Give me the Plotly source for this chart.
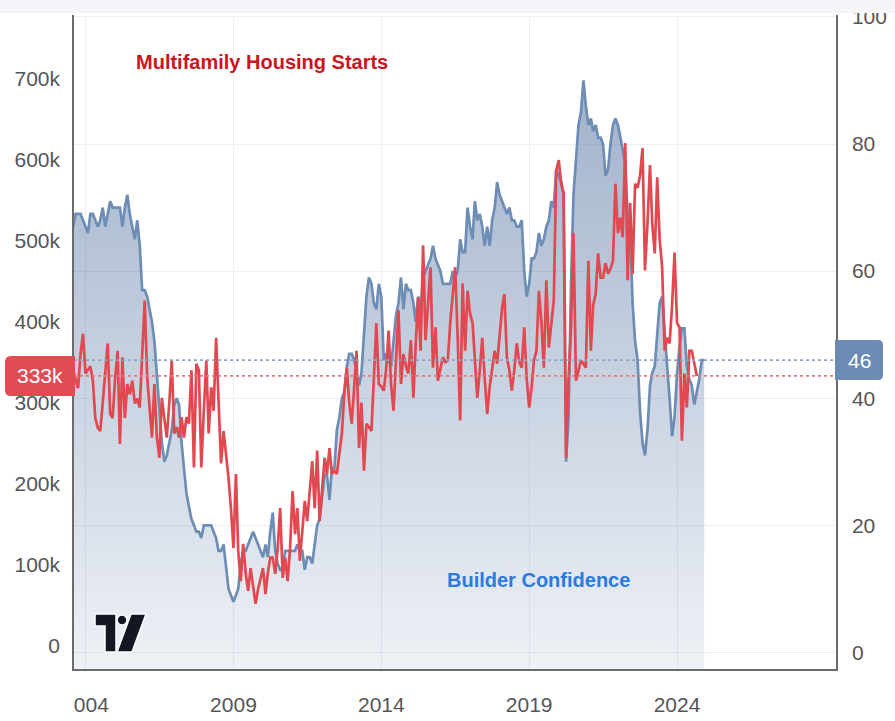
import pandas as pd
import plotly.graph_objects as go

# ---------------- data (monthly, starting Aug 2003) ----------------
series_start = "2003-08-01"

# NAHB builder confidence index (right axis)
builder_confidence = [
    67, 69, 69, 69, 68,                                   # 2003 Aug-Dec
    67, 66, 69, 69, 68, 67, 68, 70, 67, 69, 71, 70,       # 2004
    70, 70, 70, 67, 70, 72, 69, 67, 65, 68, 64, 57,       # 2005
    57, 56, 54, 52, 49, 44, 39, 33, 30, 31, 33, 35,       # 2006
    39, 40, 39, 33, 29, 25, 23, 21, 20, 19, 19, 18,       # 2007
    20, 20, 20, 20, 19, 18, 16, 16, 17, 14, 10, 9,        # 2008
    8, 9, 10, 14, 16, 16, 17, 18, 19, 18, 17, 16,         # 2009
    15, 17, 15, 19, 22, 16, 14, 13, 13, 16, 16, 16,       # 2010
    16, 16, 17, 16, 16, 13, 15, 15, 14, 17, 20, 21,       # 2011
    25, 28, 28, 24, 29, 29, 35, 37, 40, 41, 45, 47,       # 2012
    47, 46, 44, 42, 44, 51, 56, 59, 58, 55, 54, 58,       # 2013
    56, 46, 47, 46, 45, 49, 53, 55, 59, 54, 58, 57,       # 2014
    57, 55, 52, 56, 54, 59, 60, 61, 62, 64, 62, 61,       # 2015
    60, 58, 58, 58, 58, 60, 59, 60, 65, 63, 63, 70,       # 2016
    67, 65, 71, 68, 69, 67, 64, 67, 64, 68, 70, 74,       # 2017
    72, 71, 70, 69, 70, 68, 68, 67, 67, 68, 60, 56,       # 2018
    58, 62, 62, 63, 66, 64, 65, 67, 68, 71, 70, 76,       # 2019
    75, 74, 72, 30, 37, 58, 72, 78, 83, 85, 90, 86,       # 2020
    83, 84, 82, 83, 81, 81, 80, 75, 76, 80, 83, 84,       # 2021
    83, 81, 79, 77, 69, 67, 55, 49, 46, 38, 33, 31,       # 2022
    35, 42, 44, 45, 50, 55, 56, 50, 45, 40, 34, 37,       # 2023
    44, 48, 51, 51, 45, 43, 42, 39, 41, 43, 46, 46,       # 2024
]

# Multifamily housing starts, thousands (left axis)
multifamily_starts_k = [
    340, 330, 318, 360, 385,                                        # 2003 Aug-Dec
    336, 340, 345, 327, 281, 269, 265, 300, 340, 373, 286, 281,     # 2004
    330, 364, 249, 356, 281, 323, 310, 327, 299, 305, 294, 356,     # 2005
    426, 331, 290, 257, 323, 257, 232, 306, 280, 257, 300, 352,     # 2006
    262, 270, 257, 282, 257, 282, 274, 340, 220, 348, 340, 220,     # 2007
    290, 352, 262, 319, 290, 380, 302, 225, 265, 240, 207, 170,     # 2008
    121, 212, 117, 80, 126, 90, 68, 96, 72, 52, 70, 84,             # 2009
    96, 64, 90, 109, 109, 89, 120, 170, 84, 109, 80, 120,           # 2010
    191, 138, 170, 105, 138, 179, 154, 190, 228, 170, 241, 154,     # 2011
    190, 232, 212, 244, 212, 216, 212, 240, 262, 311, 343, 300,     # 2012
    274, 320, 364, 244, 300, 216, 274, 270, 265, 330, 398, 323,     # 2013
    320, 315, 340, 389, 323, 290, 360, 414, 323, 360, 345, 336,     # 2014
    377, 306, 370, 430, 364, 494, 377, 420, 467, 343, 393, 327,     # 2015
    340, 356, 350, 352, 398, 430, 467, 380, 278, 447, 364, 438,     # 2016
    410, 398, 360, 306, 340, 380, 330, 286, 320, 343, 364, 348,     # 2017
    380, 417, 434, 356, 340, 315, 340, 373, 350, 343, 393, 330,     # 2018
    294, 320, 352, 364, 438, 400, 343, 451, 368, 400, 426, 586,     # 2019
    599, 570, 558, 232, 330, 393, 509, 327, 340, 352, 348, 343,     # 2020
    475, 364, 420, 434, 484, 454, 454, 472, 459, 465, 475, 570,     # 2021
    509, 528, 504, 620, 451, 546, 459, 570, 565, 580, 614, 463,     # 2022
    521, 593, 520, 484, 578, 500, 467, 364, 380, 373, 420, 485,     # 2023
    398, 393, 253, 336, 294, 364, 364, 350, 333,                    # 2024 Jan-Sep
]

x_tick_dates = ["2004-01-01", "2009-01-01", "2014-01-01", "2019-01-01", "2024-01-01"]
x_tick_labels = ["2004", "2009", "2014", "2019", "2024"]
left_tick_values = [0, 100000, 200000, 300000, 400000, 500000, 600000, 700000]
left_tick_labels = ["0", "100k", "200k", "300k", "400k", "500k", "600k", "700k"]
right_tick_values = [0, 20, 40, 60, 80, 100]
right_tick_labels = ["0", "20", "40", "60", "80", "100"]

blue_dates = pd.date_range(series_start, periods=len(builder_confidence), freq="MS")
red_dates = pd.date_range(series_start, periods=len(multifamily_starts_k), freq="MS")
red_values = [v * 1000 for v in multifamily_starts_k]
last_red = red_values[-1]
last_blue = builder_confidence[-1]

# ---------------- style ----------------
FONT = "Liberation Sans, Arial, sans-serif"
RED = "#e2484f"
BLUE = "#6e8db5"
TICK_COLOR = "#555555"

fig = go.Figure()

# baseline so that the blue area reaches the bottom of the plot
fig.add_trace(go.Scatter(
    x=[blue_dates[0], blue_dates[-1]], y=[-10, -10], yaxis="y",
    mode="lines", line=dict(width=0), hoverinfo="skip", showlegend=False,
))
fig.add_trace(go.Scatter(
    x=blue_dates, y=builder_confidence, yaxis="y", name="Builder Confidence",
    mode="lines", line=dict(color=BLUE, width=2.7),
    fill="tonexty",
    fillgradient=dict(type="vertical", start=-3, stop=92,
                      colorscale=[[0, "rgba(90,120,165,0.10)"], [1, "rgba(90,120,165,0.58)"]]),
    showlegend=False,
))
fig.add_trace(go.Scatter(
    x=red_dates, y=red_values, yaxis="y2", name="Multifamily Housing Starts",
    mode="lines", line=dict(color=RED, width=2.7), showlegend=False,
))

fig.update_layout(
    width=895, height=721,
    margin=dict(l=74, r=59, t=15, b=52, autoexpand=False),
    paper_bgcolor="white", plot_bgcolor="white",
    showlegend=False,
    xaxis=dict(
        type="date", range=["2003-08-12", "2029-05-17"], automargin=False,
        tickvals=x_tick_dates, ticktext=x_tick_labels,
        showgrid=True, gridcolor="#eceef2", gridwidth=1,
        showline=True, linecolor="#6b6b6b", linewidth=1.5,
        ticks="", ticklabelstandoff=16,
        tickfont=dict(family=FONT, size=21, color=TICK_COLOR),
        zeroline=False,
    ),
    yaxis=dict(
        side="right", range=[-2.6, 100.3], automargin=False,
        tickvals=right_tick_values, ticktext=right_tick_labels,
        showgrid=True, gridcolor="#eceef2", gridwidth=1.2,
        showline=True, linecolor="#6b6b6b", linewidth=1.5,
        ticks="", ticklabelstandoff=10,
        tickfont=dict(family=FONT, size=21, color=TICK_COLOR),
        zeroline=False,
    ),
    yaxis2=dict(
        side="left", overlaying="y", range=[-28400, 778000], automargin=False,
        tickvals=left_tick_values, ticktext=left_tick_labels,
        showgrid=False,
        showline=True, linecolor="#6b6b6b", linewidth=1.5,
        ticks="", ticklabelstandoff=8,
        tickfont=dict(family=FONT, size=21, color=TICK_COLOR),
        zeroline=False,
    ),
)

shapes = []
# light band across the top
shapes.append(dict(type="rect", xref="paper", yref="paper", x0=-0.2, x1=1.2, y0=1.003, y1=1.06,
                   fillcolor="#f3f5f8", line=dict(width=0), layer="above"))
# hide the first digit of the first year label (clipped in the original)
shapes.append(dict(type="rect", xref="paper", yref="paper", x0=-0.06, x1=-0.0013, y0=-0.1, y1=-0.015,
                   fillcolor="white", line=dict(width=0), layer="above"))
# last-value dotted guide lines
shapes.append(dict(type="line", xref="paper", yref="y2", x0=0, x1=1, y0=last_red, y1=last_red,
                   line=dict(color="#e57a7f", width=1.6, dash="dot"), layer="above"))
shapes.append(dict(type="line", xref="paper", yref="y", x0=0, x1=1, y0=last_blue, y1=last_blue,
                   line=dict(color="#8ea6c6", width=1.6, dash="dot"), layer="above"))
# last-value label boxes (rounded)
shapes.append(dict(type="path", xref="paper", yref="y2", xsizemode="pixel", ysizemode="pixel",
                   xanchor=0, yanchor=last_red,
                   path="M 1,-20 L -63,-20 Q -69,-20 -69,-14 L -69,14 Q -69,20 -63,20 L 1,20 Z",
                   fillcolor="#e14b52", line=dict(width=0), layer="above"))
shapes.append(dict(type="path", xref="paper", yref="y", xsizemode="pixel", ysizemode="pixel",
                   xanchor=1, yanchor=last_blue,
                   path="M -1,-20 L 42,-20 Q 47,-20 47,-15 L 47,15 Q 47,20 42,20 L -1,20 Z",
                   fillcolor="#6b8bb5", line=dict(width=0), layer="above"))
# TradingView-style logo, bottom-left
logo_style = dict(xref="paper", yref="paper", xsizemode="pixel", ysizemode="pixel",
                  xanchor=0, yanchor=0, fillcolor="#131722",
                  line=dict(color="white", width=1.5), layer="above")
shapes.append(dict(type="path", path="M 21,55 L 42,55 L 42,17 L 31,17 L 31,43 L 21,43 Z", **logo_style))
shapes.append(dict(type="circle", x0=43, x1=53, y0=44, y1=54, **logo_style))
shapes.append(dict(type="path", path="M 57,55 L 72,55 L 58,17 L 43,17 Z", **logo_style))
fig.update_layout(shapes=shapes)

annotations = [
    dict(text="Multifamily Housing Starts", xref="paper", yref="paper", x=0.2467, y=0.928,
         xanchor="center", yanchor="middle",
         showarrow=False, font=dict(family=FONT, size=20, color="#cc1420", weight="bold")),
    dict(text="Builder Confidence", xref="paper", yref="paper", x=0.609, y=0.136,
         xanchor="center", yanchor="middle",
         showarrow=False, font=dict(family=FONT, size=20, color="#2a7ae0", weight="bold")),
    dict(text=f"{last_red / 1000:.0f}k", xref="paper", yref="y2", x=0, y=last_red, xshift=-34,
         xanchor="center", yanchor="middle",
         showarrow=False, font=dict(family=FONT, size=21, color="white")),
    dict(text=f"{last_blue}", xref="paper", yref="y", x=1, y=last_blue, xshift=23,
         xanchor="center", yanchor="middle",
         showarrow=False, font=dict(family=FONT, size=21, color="white")),
]
fig.update_layout(annotations=annotations)

fig.write_html("out.html", config={"displayModeBar": False},
               post_script="document.body.style.margin='0';")
